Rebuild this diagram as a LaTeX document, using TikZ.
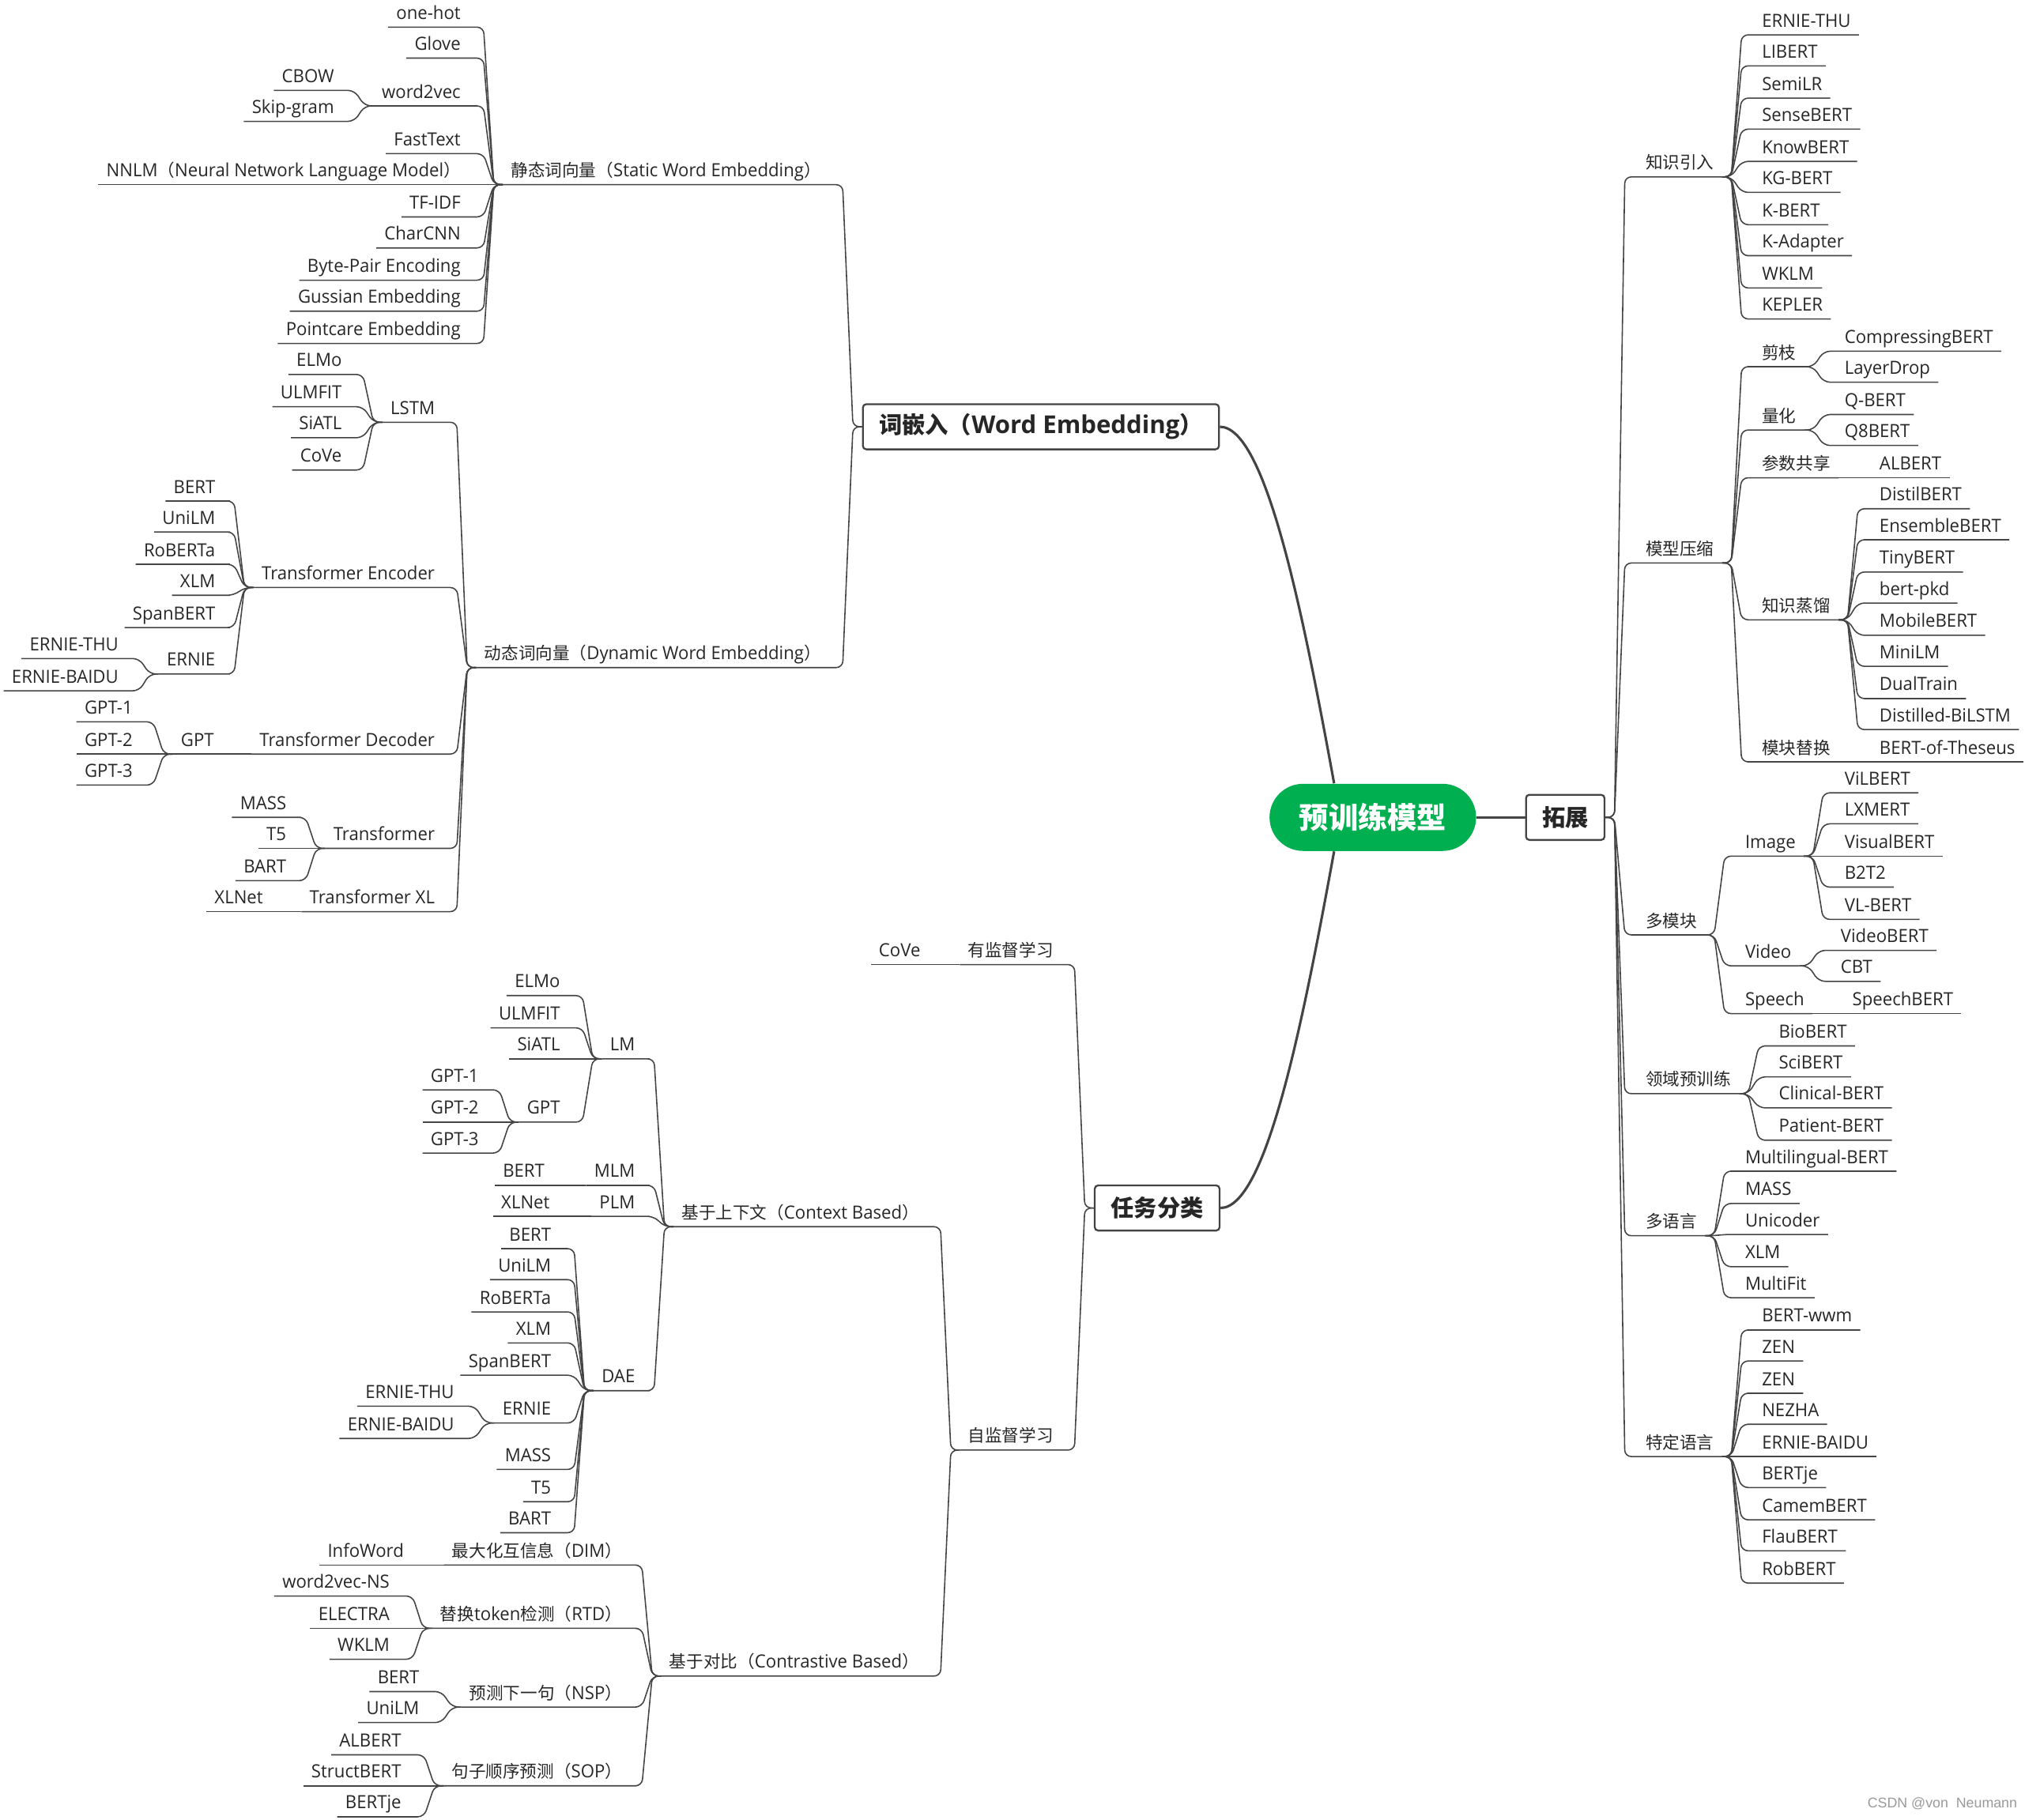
\documentclass[tikz,border=0pt]{standalone}
\usepackage{fontspec}
\setmainfont{Open Sans}
\newfontfamily\leaffont{Open Sans}[FakeStretch=0.965]
\newfontfamily\zh{Noto Sans CJK SC}[Scale=0.94]
\newfontfamily\markfont{Liberation Sans}
\definecolor{rootgreen}{HTML}{00AF50}
\definecolor{inkgrey}{HTML}{444444}
\tikzset{
  root/.style={fill=rootgreen, text=white, rounded corners=0.52cm, minimum width=3.2cm,
    minimum height=1.04cm, font=\zh\fontsize{13.8}{16}\selectfont\bfseries},
  topic/.style={draw=inkgrey, line width=0.8pt, rounded corners=1.5pt, fill=white,
    inner xsep=0.25cm, minimum height=0.7cm, text=black!85, font=\fontsize{10.85}{13}\selectfont\bfseries},
  leaf/.style={inner xsep=0.12cm, inner ysep=0pt, text height=0.22cm, text depth=0.115cm,
    text=black!85, font=\leaffont\fontsize{8}{9.6}\selectfont},
  rnode/.style={leaf, anchor=south west},
  lnode/.style={leaf, anchor=south east},
  link/.style={draw=inkgrey, line width=0.55pt, rounded corners=0.1cm},
  trunk/.style={draw=inkgrey, line width=1.1pt},
  fanR/.style={to path={-- ++(7,0) -- ([xshift=0.3cm]\tikztostart |- \tikztotarget.south west)
    -- (\tikztotarget.south west) -- (\tikztotarget.south east)}},
  fanL/.style={to path={-- ++(-7,0) -- ([xshift=-0.3cm]\tikztostart |- \tikztotarget.south east)
    -- (\tikztotarget.south east) -- (\tikztotarget.south west)}}
}
\begin{document}
\begin{tikzpicture}[x=0.02cm, y=-0.02cm]
\useasboundingbox (0,0) rectangle (1568,1409);

% centre and main topics
\node[root] (pre) at (1063,633) {预训练模型};
\node[topic] (wordemb) at (806,330.5) {{\zh 词嵌入（}Word Embedding{\zh ）}};
\node[topic] (taskcls) at (896,935.5) {{\zh 任务分类}};
\node[topic] (ext) at (1212,633) {{\zh 拓展}};

% word embedding
\node[lnode] (swe) at (642,143) {{\zh 静态词向量（}Static Word Embedding{\zh ）}};
\node[lnode] (dwe) at (642,517) {{\zh 动态词向量（}Dynamic Word Embedding{\zh ）}};

\node[lnode] (onehot)   at (363,21)  {one-hot};
\node[lnode] (glove)    at (363,45)  {Glove};
\node[lnode] (wvec)     at (363,82)  {word2vec};
\node[lnode] (fasttext) at (363,119) {FastText};
\node[lnode] (nnlm)     at (363,143) {NNLM{\zh （}Neural Network Language Model{\zh ）}};
\node[lnode] (tfidf)    at (363,168) {TF-IDF};
\node[lnode] (charcnn)  at (363,192) {CharCNN};
\node[lnode] (bpe)      at (363,217) {Byte-Pair Encoding};
\node[lnode] (gauss)    at (363,241) {Gussian Embedding};
\node[lnode] (poinc)    at (363,266) {Pointcare Embedding};
\node[lnode] (cbow)     at (265,70)  {CBOW};
\node[lnode] (skipgram) at (265,94)  {Skip-gram};

\node[lnode] (lstm)  at (343,327) {LSTM};
\node[lnode] (tenc)  at (343,455) {Transformer Encoder};
\node[lnode] (tdec)  at (343,584) {Transformer Decoder};
\node[lnode] (trans) at (343,657) {Transformer};
\node[lnode] (txl)   at (343,706) {Transformer XL};

\node[lnode] (lElmo)  at (271,290) {ELMo};
\node[lnode] (lUlm)   at (271,315) {ULMFIT};
\node[lnode] (lSiatl) at (271,339) {SiATL};
\node[lnode] (lCove)  at (271,364) {CoVe};

\node[lnode] (eBert)    at (173,388) {BERT};
\node[lnode] (eUnilm)   at (173,412) {UniLM};
\node[lnode] (eRoberta) at (173,437) {RoBERTa};
\node[lnode] (eXlm)     at (173,461) {XLM};
\node[lnode] (eSpan)    at (173,486) {SpanBERT};
\node[lnode] (eErnie)   at (173,522) {ERNIE};
\node[lnode] (eThu)     at (98,510)  {ERNIE-THU};
\node[lnode] (eBaidu)   at (98,535)  {ERNIE-BAIDU};

\node[lnode] (dGpt)  at (172,584) {GPT};
\node[lnode] (dGpt1) at (109,559) {GPT-1};
\node[lnode] (dGpt2) at (109,584) {GPT-2};
\node[lnode] (dGpt3) at (109,608) {GPT-3};

\node[lnode] (tMass) at (228,633) {MASS};
\node[lnode] (tT5)   at (228,657) {T5};
\node[lnode] (tBart) at (228,682) {BART};
\node[lnode] (xXlnet) at (210,706) {XLNet};

% task classes
\node[lnode] (sup)  at (822,747)  {{\zh 有监督学习}};
\node[lnode] (self) at (822,1123) {{\zh 自监督学习}};
\node[lnode] (supCove) at (719,747) {CoVe};

\node[lnode] (ctx) at (718,950)  {{\zh 基于上下文（}Context Based{\zh ）}};
\node[lnode] (con) at (718,1298) {{\zh 基于对比（}Contrastive Based{\zh ）}};

\node[lnode] (lm)  at (498,820)  {LM};
\node[lnode] (mlm) at (498,918)  {MLM};
\node[lnode] (plm) at (498,942)  {PLM};
\node[lnode] (dae) at (498,1077) {DAE};

\node[lnode] (lmElmo)  at (440,771) {ELMo};
\node[lnode] (lmUlm)   at (440,796) {ULMFIT};
\node[lnode] (lmSiatl) at (440,820) {SiATL};
\node[lnode] (lmGpt)   at (440,869) {GPT};
\node[lnode] (g1) at (377,844) {GPT-1};
\node[lnode] (g2) at (377,869) {GPT-2};
\node[lnode] (g3) at (377,893) {GPT-3};
\node[lnode] (mlmBert)  at (428,918) {BERT};
\node[lnode] (plmXlnet) at (432,942) {XLNet};

\node[lnode] (dBert)    at (433,967)  {BERT};
\node[lnode] (dUnilm)   at (433,991)  {UniLM};
\node[lnode] (dRoberta) at (433,1016) {RoBERTa};
\node[lnode] (dXlm)     at (433,1040) {XLM};
\node[lnode] (dSpan)    at (433,1065) {SpanBERT};
\node[lnode] (dErnie)   at (433,1102) {ERNIE};
\node[lnode] (dMass)    at (433,1138) {MASS};
\node[lnode] (dT5)      at (433,1163) {T5};
\node[lnode] (dBart)    at (433,1187) {BART};
\node[lnode] (dThu)     at (358,1089) {ERNIE-THU};
\node[lnode] (dBaidu)   at (358,1114) {ERNIE-BAIDU};

\node[lnode] (dim) at (488,1212) {{\zh 最大化互信息（}DIM{\zh ）}};
\node[lnode] (rtd) at (488,1261) {{\zh 替换}token{\zh 检测（}RTD{\zh ）}};
\node[lnode] (nsp) at (488,1322) {{\zh 预测下一句（}NSP{\zh ）}};
\node[lnode] (sop) at (488,1383) {{\zh 句子顺序预测（}SOP{\zh ）}};

\node[lnode] (infoword)   at (319,1212) {InfoWord};
\node[lnode] (w2vns)      at (308,1236) {word2vec-NS};
\node[lnode] (electra)    at (308,1261) {ELECTRA};
\node[lnode] (rtdWklm)    at (308,1285) {WKLM};
\node[lnode] (nBert)      at (331,1310) {BERT};
\node[lnode] (nUnilm)     at (331,1334) {UniLM};
\node[lnode] (sAlbert)    at (317,1359) {ALBERT};
\node[lnode] (structbert) at (317,1383) {StructBERT};
\node[lnode] (sBertje)    at (317,1407) {BERTje};

% extensions
\node[rnode] (ki) at (1268,137)  {{\zh 知识引入}};
\node[rnode] (mc) at (1268,436)  {{\zh 模型压缩}};
\node[rnode] (mm) at (1268,724)  {{\zh 多模块}};
\node[rnode] (dp) at (1268,847)  {{\zh 领域预训练}};
\node[rnode] (ml) at (1268,957)  {{\zh 多语言}};
\node[rnode] (sl) at (1268,1128) {{\zh 特定语言}};

\node[rnode] (k1)  at (1358,27)  {ERNIE-THU};
\node[rnode] (k2)  at (1358,51)  {LIBERT};
\node[rnode] (k3)  at (1358,76)  {SemiLR};
\node[rnode] (k4)  at (1358,100) {SenseBERT};
\node[rnode] (k5)  at (1358,125) {KnowBERT};
\node[rnode] (k6)  at (1358,149) {KG-BERT};
\node[rnode] (k7)  at (1358,174) {K-BERT};
\node[rnode] (k8)  at (1358,198) {K-Adapter};
\node[rnode] (k9)  at (1358,223) {WKLM};
\node[rnode] (k10) at (1358,247) {KEPLER};

\node[rnode] (prune)   at (1358,284) {{\zh 剪枝}};
\node[rnode] (quant)   at (1358,333) {{\zh 量化}};
\node[rnode] (share)   at (1358,370) {{\zh 参数共享}};
\node[rnode] (distill) at (1358,480) {{\zh 知识蒸馏}};
\node[rnode] (replace) at (1358,590) {{\zh 模块替换}};

\node[rnode] (compress)  at (1422,272) {CompressingBERT};
\node[rnode] (layerdrop) at (1422,296) {LayerDrop};
\node[rnode] (qbert)     at (1422,321) {Q-BERT};
\node[rnode] (q8bert)    at (1422,345) {Q8BERT};
\node[rnode] (mAlbert)   at (1449,370) {ALBERT};
\node[rnode] (di1) at (1449,394) {DistilBERT};
\node[rnode] (di2) at (1449,418) {EnsembleBERT};
\node[rnode] (di3) at (1449,443) {TinyBERT};
\node[rnode] (di4) at (1449,467) {bert-pkd};
\node[rnode] (di5) at (1449,492) {MobileBERT};
\node[rnode] (di6) at (1449,516) {MiniLM};
\node[rnode] (di7) at (1449,541) {DualTrain};
\node[rnode] (di8) at (1449,565) {Distilled-BiLSTM};
\node[rnode] (theseus) at (1449,590) {BERT-of-Theseus};

\node[rnode] (image)  at (1345,663) {Image};
\node[rnode] (video)  at (1345,748) {Video};
\node[rnode] (speech) at (1345,785) {Speech};
\node[rnode] (vilbert)    at (1422,614) {ViLBERT};
\node[rnode] (lxmert)     at (1422,638) {LXMERT};
\node[rnode] (visualbert) at (1422,663) {VisualBERT};
\node[rnode] (btwot)      at (1422,687) {B2T2};
\node[rnode] (vlbert)     at (1422,712) {VL-BERT};
\node[rnode] (videobert)  at (1419,736) {VideoBERT};
\node[rnode] (cbt)        at (1419,760) {CBT};
\node[rnode] (speechbert) at (1428,785) {SpeechBERT};

\node[rnode] (biobert)  at (1371,810) {BioBERT};
\node[rnode] (scibert)  at (1371,834) {SciBERT};
\node[rnode] (clinical) at (1371,858) {Clinical-BERT};
\node[rnode] (patient)  at (1371,883) {Patient-BERT};

\node[rnode] (mbert)    at (1345,907)  {Multilingual-BERT};
\node[rnode] (mlMass)   at (1345,932)  {MASS};
\node[rnode] (unicoder) at (1345,956)  {Unicoder};
\node[rnode] (mlXlm)    at (1345,981)  {XLM};
\node[rnode] (multifit) at (1345,1005) {MultiFit};

\node[rnode] (s1) at (1358,1030) {BERT-wwm};
\node[rnode] (s2) at (1358,1054) {ZEN};
\node[rnode] (s3) at (1358,1079) {ZEN};
\node[rnode] (s4) at (1358,1103) {NEZHA};
\node[rnode] (s5) at (1358,1128) {ERNIE-BAIDU};
\node[rnode] (s6) at (1358,1152) {BERTje};
\node[rnode] (s7) at (1358,1177) {CamemBERT};
\node[rnode] (s8) at (1358,1201) {FlauBERT};
\node[rnode] (s9) at (1358,1226) {RobBERT};

\node[font=\markfont\fontsize{6.2}{7}\selectfont, text=black!40] (mark) at (1504,1397) {CSDN @von\ \ Neumann};

% Draw edges
\draw[trunk] (pre) -- (ext);
\draw[trunk] ([xshift=-0.6cm]pre.north) .. controls +(-25,-137) and +(35,0) .. (wordemb.east);
\draw[trunk] ([xshift=-0.6cm]pre.south) .. controls +(-25,137) and +(35,0) .. (taskcls.east);

\foreach \c in {swe,dwe} \draw[link] (wordemb.west) to[fanL] (\c);
\foreach \c in {onehot,glove,wvec,fasttext,nnlm,tfidf,charcnn,bpe,gauss,poinc}
  \draw[link] (swe.south west) to[fanL] (\c);
\foreach \c in {cbow,skipgram} \draw[link] (wvec.south west) to[fanL] (\c);
\foreach \c in {lstm,tenc,tdec,trans,txl} \draw[link] (dwe.south west) to[fanL] (\c);
\foreach \c in {lElmo,lUlm,lSiatl,lCove} \draw[link] (lstm.south west) to[fanL] (\c);
\foreach \c in {eBert,eUnilm,eRoberta,eXlm,eSpan,eErnie} \draw[link] (tenc.south west) to[fanL] (\c);
\foreach \c in {eThu,eBaidu} \draw[link] (eErnie.south west) to[fanL] (\c);
\draw[link] (tdec.south west) to[fanL] (dGpt);
\foreach \c in {dGpt1,dGpt2,dGpt3} \draw[link] (dGpt.south west) to[fanL] (\c);
\foreach \c in {tMass,tT5,tBart} \draw[link] (trans.south west) to[fanL] (\c);
\draw[link] (txl.south west) to[fanL] (xXlnet);

\foreach \c in {sup,self} \draw[link] (taskcls.west) to[fanL] (\c);
\draw[link] (sup.south west) to[fanL] (supCove);
\foreach \c in {ctx,con} \draw[link] (self.south west) to[fanL] (\c);
\foreach \c in {lm,mlm,plm,dae} \draw[link] (ctx.south west) to[fanL] (\c);
\foreach \c in {lmElmo,lmUlm,lmSiatl,lmGpt} \draw[link] (lm.south west) to[fanL] (\c);
\foreach \c in {g1,g2,g3} \draw[link] (lmGpt.south west) to[fanL] (\c);
\draw[link] (mlm.south west) to[fanL] (mlmBert);
\draw[link] (plm.south west) to[fanL] (plmXlnet);
\foreach \c in {dBert,dUnilm,dRoberta,dXlm,dSpan,dErnie,dMass,dT5,dBart}
  \draw[link] (dae.south west) to[fanL] (\c);
\foreach \c in {dThu,dBaidu} \draw[link] (dErnie.south west) to[fanL] (\c);
\foreach \c in {dim,rtd,nsp,sop} \draw[link] (con.south west) to[fanL] (\c);
\draw[link] (dim.south west) to[fanL] (infoword);
\foreach \c in {w2vns,electra,rtdWklm} \draw[link] (rtd.south west) to[fanL] (\c);
\foreach \c in {nBert,nUnilm} \draw[link] (nsp.south west) to[fanL] (\c);
\foreach \c in {sAlbert,structbert,sBertje} \draw[link] (sop.south west) to[fanL] (\c);

\foreach \c in {ki,mc,mm,dp,ml,sl} \draw[link] (ext.east) to[fanR] (\c);
\foreach \c in {k1,k2,k3,k4,k5,k6,k7,k8,k9,k10} \draw[link] (ki.south east) to[fanR] (\c);
\foreach \c in {prune,quant,share,distill,replace} \draw[link] (mc.south east) to[fanR] (\c);
\foreach \c in {compress,layerdrop} \draw[link] (prune.south east) to[fanR] (\c);
\foreach \c in {qbert,q8bert} \draw[link] (quant.south east) to[fanR] (\c);
\draw[link] (share.south east) to[fanR] (mAlbert);
\foreach \c in {di1,di2,di3,di4,di5,di6,di7,di8} \draw[link] (distill.south east) to[fanR] (\c);
\draw[link] (replace.south east) to[fanR] (theseus);
\foreach \c in {image,video,speech} \draw[link] (mm.south east) to[fanR] (\c);
\foreach \c in {vilbert,lxmert,visualbert,btwot,vlbert} \draw[link] (image.south east) to[fanR] (\c);
\foreach \c in {videobert,cbt} \draw[link] (video.south east) to[fanR] (\c);
\draw[link] (speech.south east) to[fanR] (speechbert);
\foreach \c in {biobert,scibert,clinical,patient} \draw[link] (dp.south east) to[fanR] (\c);
\foreach \c in {mbert,mlMass,unicoder,mlXlm,multifit} \draw[link] (ml.south east) to[fanR] (\c);
\foreach \c in {s1,s2,s3,s4,s5,s6,s7,s8,s9} \draw[link] (sl.south east) to[fanR] (\c);

\end{tikzpicture}
\end{document}
